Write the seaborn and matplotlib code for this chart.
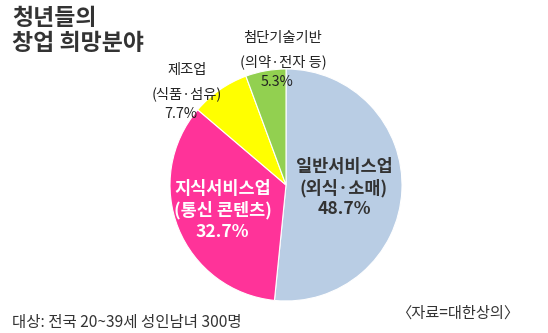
import numpy as np
import matplotlib
matplotlib.use("Agg")
import matplotlib.pyplot as plt
import seaborn as sns

# Survey data: preferred start-up fields of young adults
categories = ["일반서비스업", "지식서비스업", "제조업", "첨단기술기반"]
details = ["(외식·소매)", "(통신 콘텐츠)", "(식품·섬유)", "(의약·전자 등)"]
shares = [48.7, 32.7, 7.7, 5.3]
colors = ["#B9CDE4", "#FF3399", "#FFFF00", "#92D050"]

title = "청년들의\n창업 희망분야"
note = "대상: 전국 20~39세 성인남녀 300명"
source = "〈자료=대한상의〉"

sns.set_theme(style="white")
plt.rcParams["font.family"] = ["Noto Sans CJK KR", "DejaVu Sans"]

W, H = 548, 333
fig = plt.figure(figsize=(W / 100, H / 100), dpi=100)
fig.patch.set_facecolor("white")


def fx(x):
    return x / W


def fy(y):
    return 1 - y / H


# pie axes: centre (286,185) px, radius 116 px
cx, cy, r = 286, 185, 116
lim = 1.03
side = 2 * r * lim
ax = fig.add_axes([fx(cx - side / 2), fy(cy + side / 2), side / W, side / H])
wedges, _ = ax.pie(
    shares,
    colors=colors,
    startangle=90,
    counterclock=False,
    wedgeprops=dict(edgecolor="white", linewidth=0.8),
)
ax.set_xlim(-lim, lim)
ax.set_ylim(-lim, lim)
ax.set_aspect("equal")
ax.axis("off")


def mid_xy(w, dist):
    ang = np.deg2rad((w.theta1 + w.theta2) / 2)
    return dist * np.cos(ang), dist * np.sin(ang)


# labels inside the two large slices
inside = [(0, 0.50, "#333333"), (1, 0.59, "white")]
for i, dist, col in inside:
    x, y = mid_xy(wedges[i], dist)
    ax.text(x, y, f"{categories[i]}\n{details[i]}\n{shares[i]}%",
            ha="center", va="center", fontsize=12.6, color=col,
            fontweight="bold", linespacing=1.2)

# labels outside the two small slices
outside = [(2, 187, (70, 94, 114)), (3, 283, (38, 62, 82))]
for i, x, ys in outside:
    fig.text(fx(x), fy(ys[0]), categories[i], ha="center", va="center",
             fontsize=10.3, color="#222222")
    fig.text(fx(x), fy(ys[1]), details[i], ha="center", va="center",
             fontsize=10.3, color="#222222")
    fig.text(fx(x - 6), fy(ys[2]), f"{shares[i]}%", ha="center", va="center",
             fontsize=10.3, color="#222222")

fig.text(fx(12), fy(7), title, ha="left", va="top", fontsize=16.5,
         fontweight="bold", color="#333333", linespacing=1.12)
fig.text(fx(12), fy(322), note, ha="left", va="center", fontsize=11.2,
         color="#333333")
fig.text(fx(519), fy(313), source, ha="right", va="center", fontsize=11,
         color="#333333")

fig.savefig("out.png", dpi=100, facecolor="white")
